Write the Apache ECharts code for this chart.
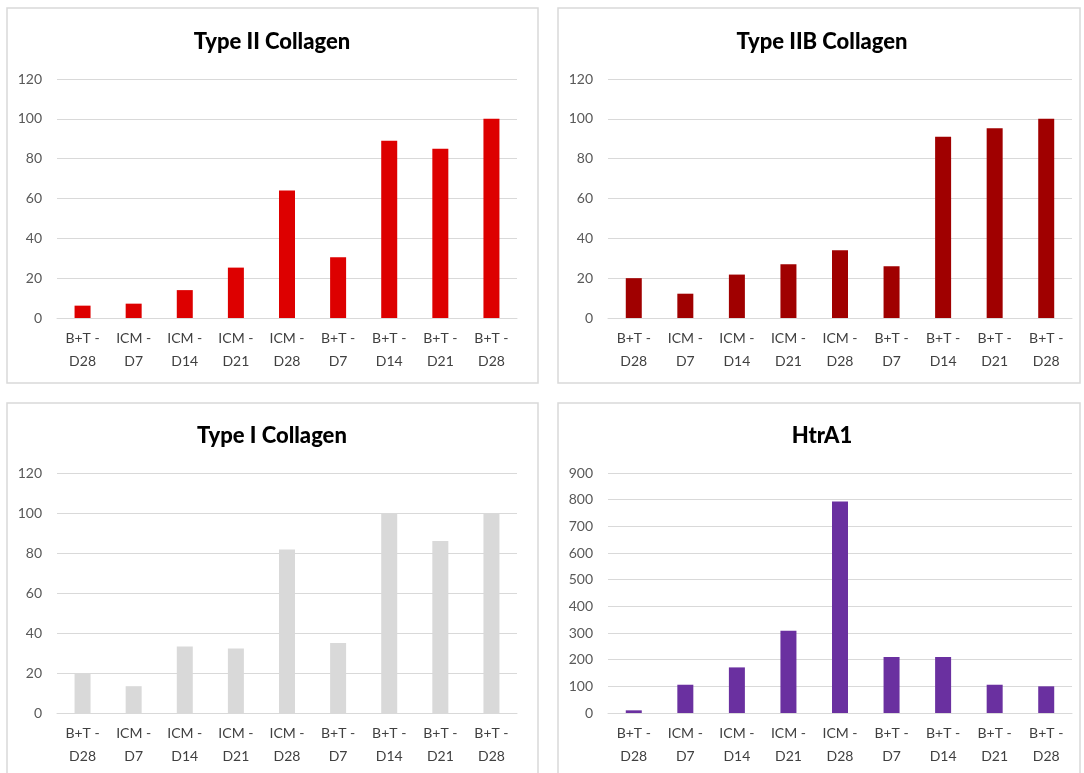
<!DOCTYPE html>
<html>
<head>
<meta charset="utf-8">
<script src="https://cdn.jsdelivr.net/npm/echarts@6/dist/echarts.min.js"></script>
<style>
html,body{margin:0;padding:0;background:#fff;}
#c{width:1084px;height:773px;}
</style>
</head>
<body>
<div id="c"></div>
<script>
const categories = ["B+T -\nD28","ICM -\nD7","ICM -\nD14","ICM -\nD21","ICM -\nD28","B+T -\nD7","B+T -\nD14","B+T -\nD21","B+T -\nD28"];
const titles = ["Type II Collagen","Type IIB Collagen","Type I Collagen","HtrA1"];
const typeII = [6.2, 7.2, 14, 25.3, 64, 30.5, 89, 85, 100];
const typeIIB = [20, 12.2, 21.8, 27, 34, 26, 91, 95.3, 100];
const typeI = [19.7, 13.4, 33.2, 32.3, 81.7, 35, 100, 86, 100];
const htra1 = [10, 106, 171, 308, 793, 210, 210, 106, 100];
const yMax = [120, 120, 120, 900];
const yInterval = [20, 20, 20, 100];
const colors = ["#dd0000", "#a00000", "#d9d9d9", "#6a30a0"];
const seriesData = [typeII, typeIIB, typeI, htra1];

const chart = echarts.init(document.getElementById('c'));
const grids = [
  {left:57, right:567, top:79, bottom:455},
  {left:608, right:12, top:79, bottom:455},
  {left:57, right:567, top:473, bottom:60},
  {left:608, right:12, top:473, bottom:60}
];
const titlePos = [
  {left:267, top:26},
  {left:817, top:26},
  {left:267, top:420},
  {left:817, top:420}
];
const font = 'Lato, "Open Sans", sans-serif';
const option = {
  backgroundColor:'#fff',
  animation:false,
  title: titles.map((t,i)=>({
    text:t, left:titlePos[i].left, top:titlePos[i].top, textAlign:'center',
    textStyle:{fontFamily:font, fontWeight:900, fontSize:22, color:'#000'}
  })),
  graphic: [
    {type:'rect', shape:{x:7,y:8,width:531,height:375}, style:{fill:'none', stroke:'#d9d9d9', lineWidth:1.5}},
    {type:'rect', shape:{x:558,y:8,width:522,height:375}, style:{fill:'none', stroke:'#d9d9d9', lineWidth:1.5}},
    {type:'rect', shape:{x:7,y:403,width:531,height:380}, style:{fill:'none', stroke:'#d9d9d9', lineWidth:1.5}},
    {type:'rect', shape:{x:558,y:403,width:522,height:380}, style:{fill:'none', stroke:'#d9d9d9', lineWidth:1.5}}
  ],
  grid: grids,
  xAxis: grids.map((g,i)=>({
    type:'category', gridIndex:i, data:categories,
    axisTick:{show:false},
    axisLine:{lineStyle:{color:'#d9d9d9', width:1}},
    axisLabel:{interval:0, fontFamily:font, fontSize:14, color:'#404040', lineHeight:23, margin:9}
  })),
  yAxis: grids.map((g,i)=>({
    type:'value', gridIndex:i, min:0, max:yMax[i], interval:yInterval[i],
    axisLine:{show:false}, axisTick:{show:false},
    splitLine:{lineStyle:{color:'#d9d9d9', width:1}},
    axisLabel:{fontFamily:font, fontSize:14, color:'#595959', margin:15}
  })),
  series: seriesData.map((d,i)=>({
    type:'bar', xAxisIndex:i, yAxisIndex:i, data:d, barWidth:16,
    itemStyle:{color:colors[i]}
  }))
};
chart.setOption(option);
</script>
</body>
</html>
